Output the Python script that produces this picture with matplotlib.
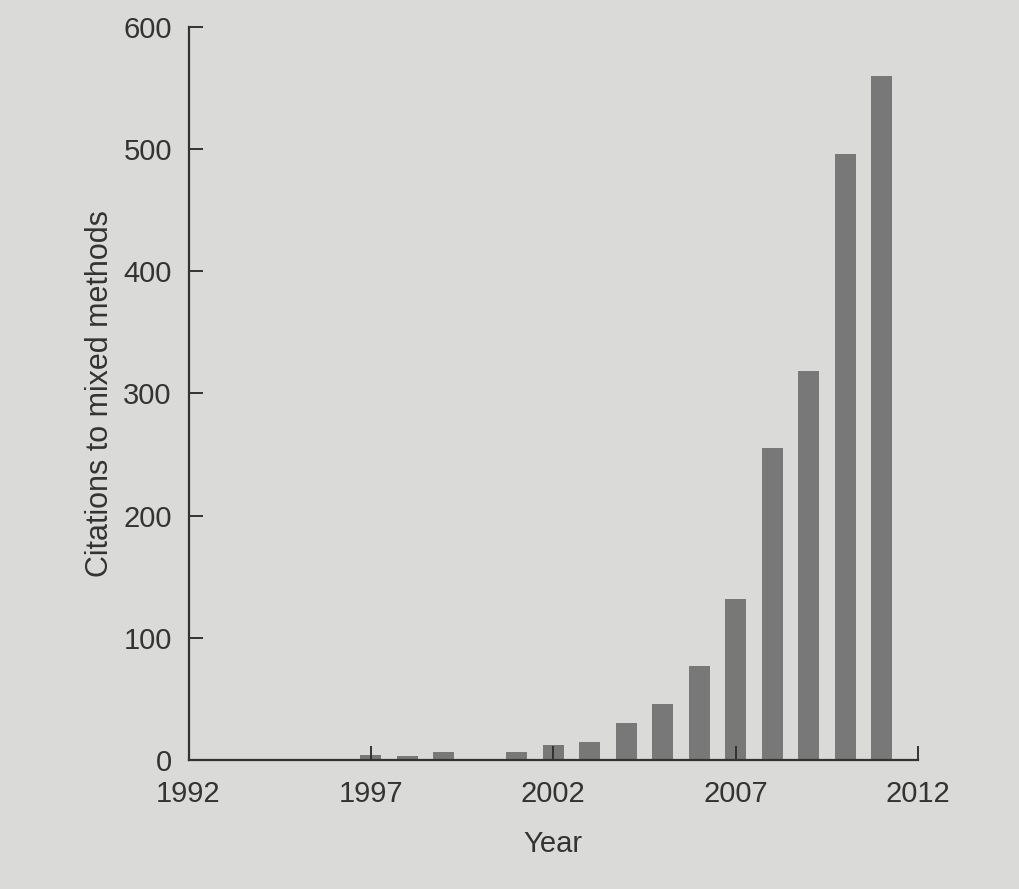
import matplotlib.pyplot as plt

# citations to mixed methods per year
years = [1997, 1998, 1999, 2001, 2002, 2003, 2004, 2005, 2006, 2007, 2008, 2009, 2010, 2011]
citations = [4, 3, 7, 7, 12, 15, 30, 46, 77, 132, 255, 318, 496, 560]

xticks = [1992, 1997, 2002, 2007, 2012]
yticks = [0, 100, 200, 300, 400, 500, 600]

plt.rcParams['font.family'] = ['Liberation Sans', 'DejaVu Sans']

bg = '#dadbd8'
fig = plt.figure(figsize=(10.19, 8.89), dpi=100, facecolor=bg)
ax = fig.add_axes([0.185, 0.145, 0.716, 0.825], facecolor=bg)

ax.bar(years, citations, width=0.58, color='#787878')

ax.set_xlim(1992, 2012)
ax.set_ylim(0, 600)
ax.set_xticks(xticks)
ax.set_yticks(yticks)

for side in ['top', 'right']:
    ax.spines[side].set_visible(False)
for side in ['left', 'bottom']:
    ax.spines[side].set_color('#333333')
    ax.spines[side].set_linewidth(1.6)

ax.tick_params(direction='in', length=10, width=1.4, color='#333333',
               labelsize=21, labelcolor='#333333')
ax.tick_params(axis='x', pad=14)
ax.tick_params(axis='y', pad=12)

ax.set_xlabel('Year', fontsize=21, color='#333333', labelpad=16)
ax.set_ylabel('Citations to mixed methods', fontsize=22, color='#333333', labelpad=6)

plt.savefig('out.png', dpi=100, facecolor=bg)
